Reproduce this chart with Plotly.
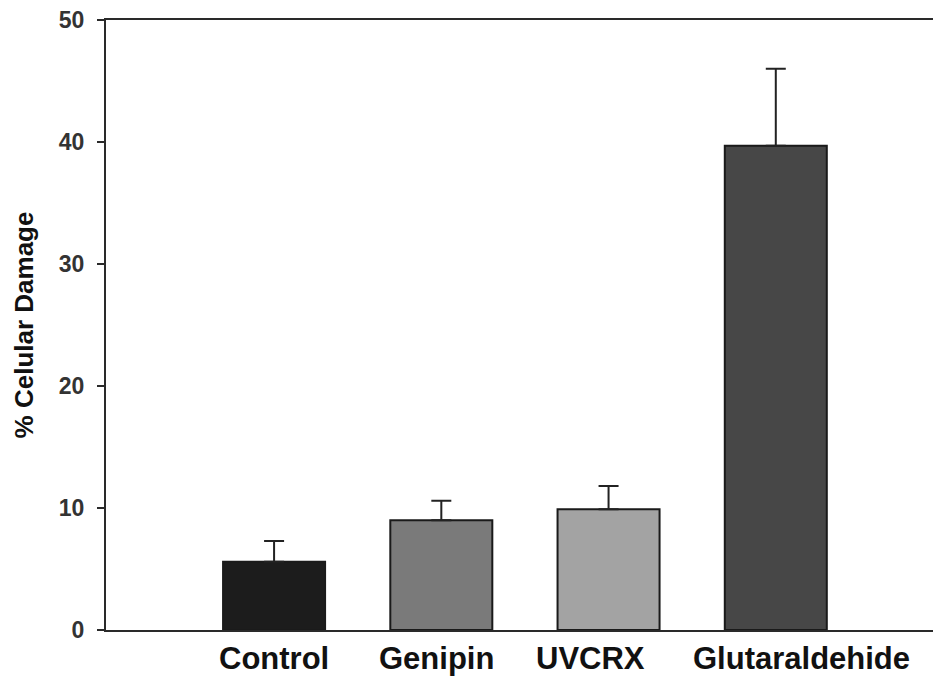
import plotly.graph_objects as go

categories = ["Control", "Genipin", "UVCRX", "Glutaraldehide"]
values = [5.6, 9.0, 9.9, 39.7]
errors_up = [1.7, 1.6, 1.9, 6.3]
bar_colors = ["#1c1c1c", "#7a7a7a", "#a3a3a3", "#474747"]
label_shift_px = [0, -5, -18, 26]
y_ticks = [0, 10, 20, 30, 40, 50]

positions = list(range(len(categories)))

fig = go.Figure()
fig.add_trace(go.Bar(
    x=positions,
    y=values,
    marker=dict(color=bar_colors, line=dict(color="#1a1a1a", width=2)),
    error_y=dict(type="data", array=errors_up, arrayminus=[0] * len(values),
                 symmetric=False, color="#222222", thickness=2, width=10),
    width=0.61,
))

font_family = "Liberation Sans, Arial, sans-serif"

for xi, name, sh in zip(positions, categories, label_shift_px):
    fig.add_annotation(
        x=xi, y=0, xref="x", yref="y", text=name, showarrow=False,
        xanchor="center", yanchor="top", xshift=sh, yshift=-9,
        font=dict(size=31, color="#111111", family=font_family, weight="bold"),
    )

fig.update_layout(
    width=933, height=677,
    margin=dict(l=106, r=0, t=20, b=47),
    paper_bgcolor="white", plot_bgcolor="white",
    showlegend=False,
    font=dict(family=font_family),
    xaxis=dict(
        range=[-1.005, 3.94],
        showticklabels=False,
        showline=True, linecolor="#2a2a2a", linewidth=2, mirror=True,
        showgrid=False, zeroline=False, ticks="",
        automargin=False,
    ),
    yaxis=dict(
        range=[0, 50],
        tickmode="array",
        tickvals=y_ticks,
        ticktext=[str(v) for v in y_ticks],
        tickfont=dict(size=23, color="#333333", family=font_family, weight="bold"),
        ticks="outside", ticklen=7, tickwidth=2, tickcolor="#2a2a2a",
        ticklabelstandoff=8,
        showline=True, linecolor="#2a2a2a", linewidth=2, mirror=False,
        showgrid=False, zeroline=False,
        automargin=False,
        title=dict(text="% Celular Damage",
                   font=dict(size=26, color="#111111", family=font_family, weight="bold"),
                   standoff=18),
    ),
)

fig.write_html("out.html", config={"displayModeBar": False},
               post_script="document.body.style.margin='0';document.body.style.overflow='hidden';document.documentElement.style.overflow='hidden';")
